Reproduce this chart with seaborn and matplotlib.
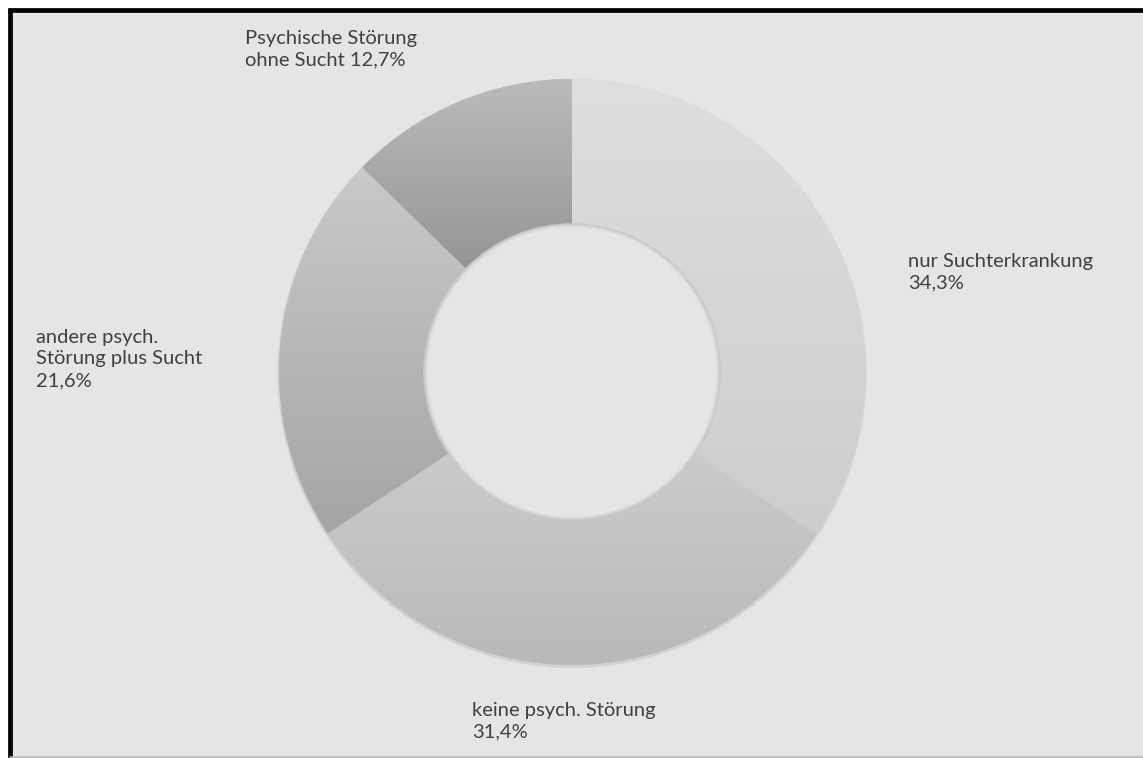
import numpy as np
import matplotlib
matplotlib.use("Agg")
import matplotlib.pyplot as plt
import seaborn as sns
from matplotlib.patches import Rectangle, Circle
from matplotlib.colors import LinearSegmentedColormap

# ---- data ----
categories = ["nur Suchterkrankung", "keine psych. Störung",
              "andere psych. Störung plus Sucht", "Psychische Störung ohne Sucht"]
values = [34.3, 31.4, 21.6, 12.7]
label_templates = ["nur Suchterkrankung\n{}", "keine psych. Störung\n{}",
                   "andere psych.\nStörung plus Sucht\n{}", "Psychische Störung\nohne Sucht {}"]

# ---- style ----
top_colors = ["#dedede", "#cbcbcb", "#c9c9c9", "#bbbbbb"]
bottom_colors = ["#cdcdcd", "#b9b9b9", "#a5a5a5", "#959595"]
label_pos = [(908, 253), (472, 702), (36, 329), (245, 30)]  # pixel coords (left, top)

sns.set_theme(style="white")
plt.rcParams['font.family'] = ['Lato', 'DejaVu Sans']

W, H = 1143, 758
fig = plt.figure(figsize=(W / 100, H / 100), dpi=100)
fig.patch.set_facecolor("white")
ax = fig.add_axes([0, 0, 1, 1])


def py(y):
    return H - y


BG = "#e5e5e5"
# panel background and frame
ax.add_patch(Rectangle((10, py(757)), W, 757 - 10, facecolor=BG,
                       edgecolor="none", zorder=0))
ax.plot([8, W], [py(10), py(10)], color="black", lw=3.4, solid_capstyle="butt", zorder=1)
ax.plot([10.3, 10.3], [0, py(8)], color="black", lw=3.4, solid_capstyle="butt", zorder=1)
ax.plot([10, W], [py(757), py(757)], color="#b5b5b5", lw=1.2, zorder=1)

cx, cy, R, hole = 572, py(372), 293, 147

# soft outer shadow
ax.add_patch(Circle((cx, cy - 1.5), R + 1.5, facecolor="#d2d2d2", edgecolor="none", zorder=1.5))

wedges, _ = ax.pie(values, startangle=90, counterclock=False, center=(cx, cy),
                   radius=R, colors=top_colors,
                   wedgeprops=dict(width=R - hole, edgecolor="none"))
grad = np.linspace(0, 1, 256).reshape(-1, 1)
for w, tc, bc in zip(wedges, top_colors, bottom_colors):
    w.set_zorder(2)
    bb = w.get_path().get_extents()
    cmap = LinearSegmentedColormap.from_list("g", [tc, bc])
    im = ax.imshow(grad, extent=(bb.x0, bb.x1, bb.y0, bb.y1), origin="upper",
                   cmap=cmap, aspect="auto", zorder=2.5, interpolation="bilinear")
    im.set_clip_path(w)

# inner hole (background showing through) with a soft rim
ax.add_patch(Circle((cx, cy), hole + 0.5, facecolor=BG, edgecolor="#c9c9c9", lw=1.8, zorder=3))
ax.add_patch(Circle((cx, cy), hole - 1.2, facecolor="none", edgecolor="#dadada", lw=1.4, zorder=3.1))

# labels
for tmpl, v, (lx, ly) in zip(label_templates, values, label_pos):
    txt = tmpl.format(f"{v:.1f}".replace(".", ",") + "%")
    ax.text(lx, py(ly), txt, ha="left", va="top", fontsize=14.5, color="#404040",
            linespacing=1.32, zorder=4)

ax.set_xlim(0, W)
ax.set_ylim(0, H)
ax.set_aspect("auto")
ax.axis("off")
fig.savefig("out.png", dpi=100, facecolor="white")
